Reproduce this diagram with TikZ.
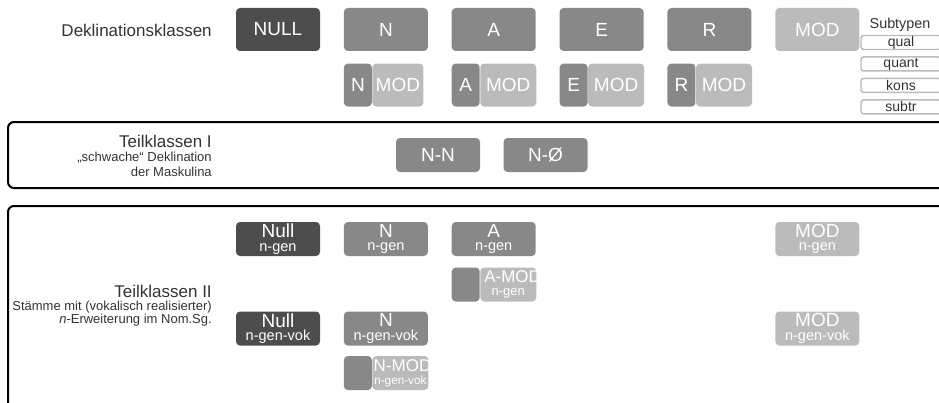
\documentclass[tikz,border=0pt]{standalone}
\usepackage{fontspec}
\setmainfont{Liberation Sans}
\usetikzlibrary{positioning}
\definecolor{kdark}{HTML}{4D4D4D}
\definecolor{kmid}{HTML}{888888}
\definecolor{klight}{HTML}{BBBBBB}
\definecolor{ktext}{HTML}{333333}
\newcommand{\subl}[1]{{\fontsize{10.9}{10.25}\selectfont #1}}
\newcommand{\subs}[1]{{\fontsize{8.8}{9.5}\selectfont\mbox{#1}}}

\begin{document}
\begin{tikzpicture}[
  x=0.75pt, y=-0.75pt,
  kbox/.style={rounded corners=3pt,inner sep=0pt,minimum width=63pt,minimum height=32.25pt,text=white,font=\fontsize{14.25}{16}\selectfont},
  tbox/.style={kbox,minimum height=25.5pt,align=center,font=\fontsize{14.25}{10.25}\selectfont},
  part/.style={kbox,minimum width=21pt},
  cut/.style={kbox,fill=klight,minimum width=42pt,minimum height=25.5pt,inner xsep=1pt,text width=40pt,align=center,font=\fontsize{12.75}{9.5}\selectfont},
  dk/.style={fill=kdark}, md/.style={fill=kmid}, lt/.style={fill=klight},
  lbl/.style={text=ktext,inner sep=0pt},
  sbox/.style={draw=klight,line width=1.1pt,fill=white,rounded corners=2pt,inner sep=0pt,minimum width=60pt,minimum height=10.5pt,font=\fontsize{10.5}{12}\selectfont,text=ktext},
  frame/.style={draw=black,line width=1.5pt,rounded corners=4.5pt}
]
\useasboundingbox (0,0) rectangle (939,403);
% Deklinationsklassen
\node[lbl,anchor=east,font=\fontsize{12.75}{15}\selectfont] (dk) at (212,30) {Deklinationsklassen};
\node[kbox,dk] (null) at (278,29.5) {NULL};
\node[kbox,md,right=17.5pt of null] (n) {N};
\node[kbox,md,right=17.5pt of n] (a) {A};
\node[kbox,md,right=17.5pt of a] (e) {E};
\node[kbox,md,right=17.5pt of e] (r) {R};
\node[kbox,lt,right=17.5pt of r] (mod) {MOD};
% with MOD
\node[part,md,below=9pt of n.south west,anchor=north west] (nm1) {N};
\node[kbox,lt,minimum width=38.25pt,right=0pt of nm1] (nm2) {MOD};
\node[part,md,below=9pt of a.south west,anchor=north west] (am1) {A};
\node[kbox,lt,minimum width=42pt,right=0pt of am1] (am2) {MOD};
\node[part,md,below=9pt of e.south west,anchor=north west] (em1) {E};
\node[kbox,lt,minimum width=42pt,right=0pt of em1] (em2) {MOD};
\node[part,md,below=9pt of r.south west,anchor=north west] (rm1) {R};
\node[kbox,lt,minimum width=42pt,right=0pt of rm1] (rm2) {MOD};
% Subtypen
\node[lbl,font=\fontsize{10.75}{13}\selectfont] (subt) at (900,25) {Subtypen};
\node[sbox] (qual) at (901,42.5) {qual};
\node[sbox,below=4.5pt of qual] (quant) {quant};
\node[sbox,below=4.5pt of quant] (kons) {kons};
\node[sbox,below=4.5pt of kons] (subtr) {subtr};

% Teilklassen I
\draw[frame] (8,122) rectangle (960,188);
\node[lbl,align=right,anchor=north east,font=\fontsize{9.75}{11}\selectfont] (tk1) at (212,134.5)
  {{\fontsize{12.75}{11}\selectfont Teilklassen I}\\„schwache“ Deklination\\der Maskulina};
\node[kbox,md,minimum height=25.5pt] (nn) at (438,155) {N-N};
\node[kbox,md,minimum height=25.5pt,right=17.25pt of nn] (nz) {N-Ø};

% Teilklassen II
\draw[frame] (8,206) rectangle (960,430);
\node[lbl,align=right,anchor=north east,font=\fontsize{9.75}{10}\selectfont] (tk2) at (212,284.5)
  {{\fontsize{12.75}{10}\selectfont Teilklassen II}\\Stämme mit (vokalisch realisierter)\\\textit{n}-Erweiterung im Nom.Sg.};
\node[tbox,dk] (nullg) at (278,239) {Null\\\subl{n-gen}};
\node[tbox,md,right=17.5pt of nullg] (ng) {N\\\subl{n-gen}};
\node[tbox,md,right=17.5pt of ng] (ag) {A\\\subl{n-gen}};
\node[tbox,lt] (modg) at (mod |- nullg) {MOD\\\subl{n-gen}};
\node[part,md,minimum height=25.5pt,below=8.25pt of ag.south west,anchor=north west] (ag1) {};
\node[cut,right=0pt of ag1] (ag2) {\makebox[40pt][l]{\hspace{2pt}A-MOD}\\{\fontsize{9.75}{9.5}\selectfont n-gen}};
\node[tbox,dk] (nullv) at (278,328.5) {Null\\\subl{n-gen-vok}};
\node[tbox,md,right=17.5pt of nullv] (nv) {N\\\subl{n-gen-vok}};
\node[tbox,lt] (modv) at (mod |- nullv) {MOD\\\subl{n-gen-vok}};
\node[part,md,minimum height=25.5pt,below=7.5pt of nv.south west,anchor=north west] (nv1) {};
\node[cut,right=0pt of nv1] (nv2) {\makebox[40pt][l]{N-MOD}\\\subs{n-gen-vok}};
\end{tikzpicture}
\end{document}
